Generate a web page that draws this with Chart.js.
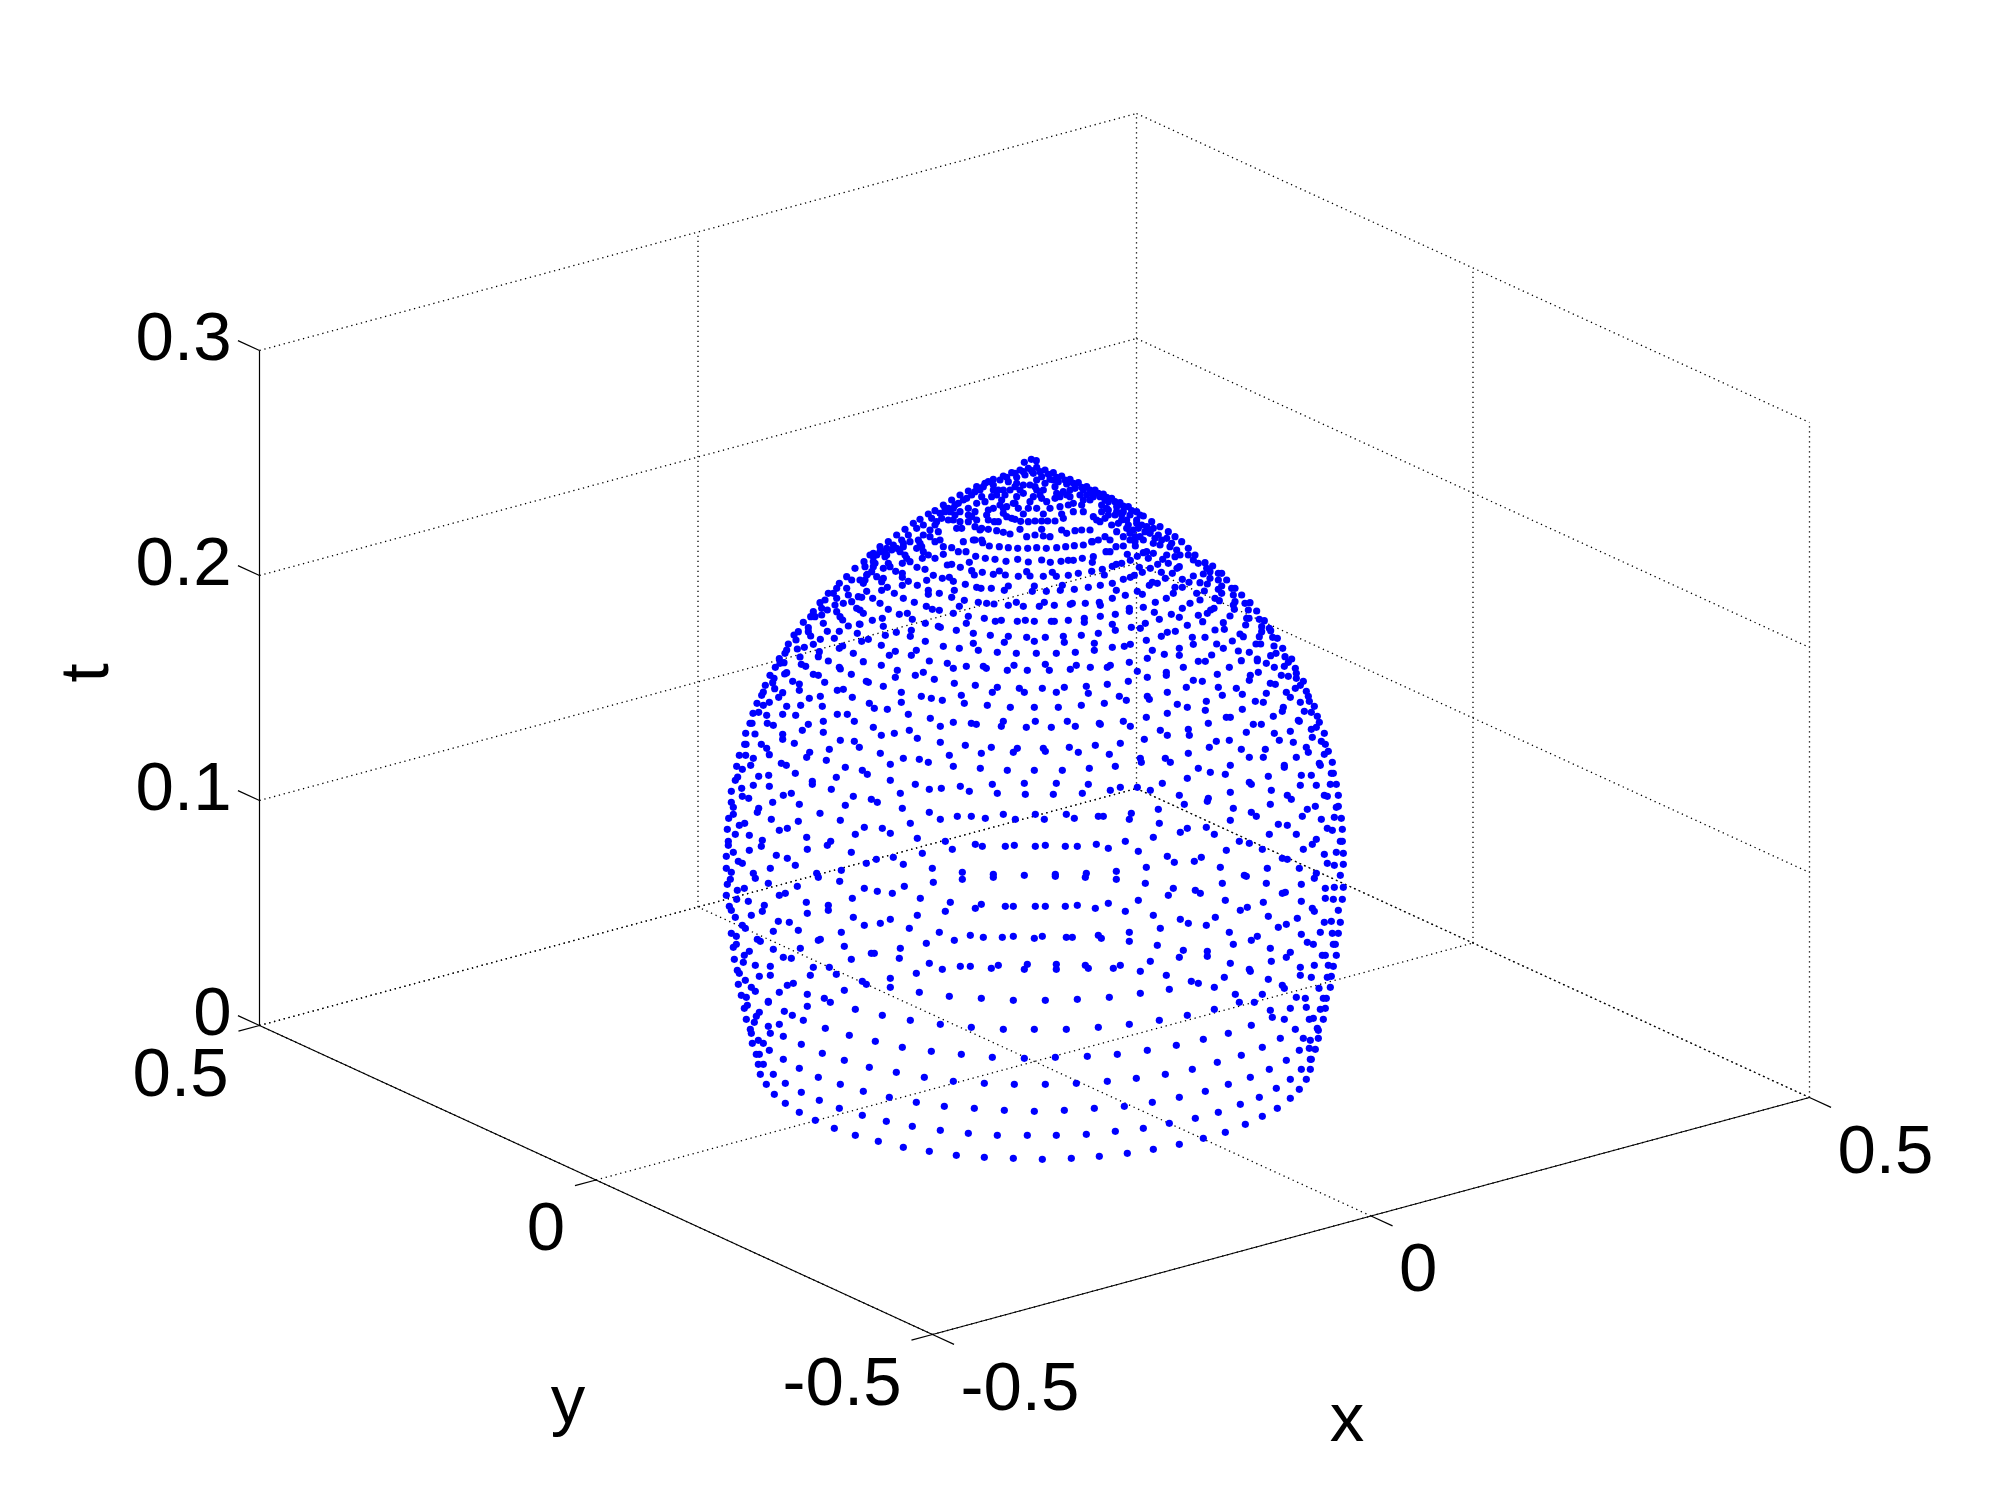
<!DOCTYPE html>
<html>
<head>
<meta charset="utf-8">
<title>Dome</title>
<script src="https://cdn.jsdelivr.net/npm/chart.js@4/dist/chart.umd.js"></script>
<style>
  html, body { margin: 0; padding: 0; background: #fff; }
  canvas { display: block; }
</style>
</head>
<body>
<canvas id="dome" width="2000" height="1500"></canvas>
<script>
// axis ticks of the box
const xTicks = [-0.5, 0, 0.5];
const yTicks = [-0.5, 0, 0.5];
const tTicks = [0, 0.1, 0.2, 0.3];
const xTickLabels = ['-0.5', '0', '0.5'];
const yTickLabels = ['-0.5', '0', '0.5'];
const tTickLabels = ['0', '0.1', '0.2', '0.3'];

// dome points, in view-plane units, one list per part of the dome
const domeTop = [[493,67],[514,58],[529,62],
[12,365],[40,340],[60,320],[85,305],[110,285],[135,268],[160,250],[180,238],[205,222],[225,212],[250,195],[275,180],[300,165],[325,153],[350,140],[375,130],[400,118],[430,108],[455,98],[480,90],[505,85],[530,82],[555,90],[580,98],[605,108],[630,118],[655,128],[680,140],[705,150],[730,162],[755,175],[780,188],[805,200],[830,215],[850,228],[875,245],[900,260],[925,275],[945,290],[965,305],[985,325],[1005,345],[1015,370],
[420,120],[445,125],[470,112],[495,105],[520,100],[545,110],[570,118],[595,125],[620,132],[645,145],[670,150],[695,158],[720,170],[745,185],[770,200],[790,215],[810,225],[830,240],[845,255],[855,275],[880,265],[895,285],[905,300],[920,295],[935,310],[950,330],[960,345],[985,345],[1000,360],
[400,135],[385,125],[360,150],[335,165],[310,180],[285,195],[265,205],[240,220],[215,235],[190,255],[170,265],[145,285],[125,300],[100,315],[75,335],[50,345],[30,345],[15,380],
[415,150],[435,165],[450,150],[465,140],[490,135],[510,135],[525,140],[555,130],[585,140],[610,155],[630,170],[660,165],[690,180],[725,195],[745,210],[765,225],[785,240],[805,255],[820,270],[825,290],
[395,170],[375,185],[420,195],[430,205],[465,190],[475,205],[505,205],[530,205],[560,185],[570,205],[600,200],[625,195],[640,190],[510,185],[490,160],[540,165],
[345,215],[325,205],[300,215],[280,240],[285,225],[305,265],[325,225],[350,240],[380,225],[403,245],[440,230],[465,238],[490,222],[482,244],[505,245],[525,243],[550,222],[545,243],[563,243],[585,243],[605,222],[610,235],[640,215],[670,215],[700,230],[710,240],[725,215],[745,225],[755,255],[775,250],[790,290],[800,265],[830,250],[835,265],[750,300],
[255,205],[230,245],[210,270],[235,275],[190,285],[175,300],[185,320],[205,345],[130,320],[135,345],[150,365],[110,325],[80,325],[80,345],[40,350],[45,370],[40,380],[20,405],[10,430],[85,370],[90,380],[250,320],[290,265],[310,305],[340,300],[365,300],[365,265],[385,268],[410,272],[430,277],[450,282],[480,268],[500,290],[525,285],[545,268],[550,288],[570,290],[605,270],[620,280],[645,272],[665,270],[690,270],[695,305],[715,300],[735,290],[770,275],[810,300],[840,290],[870,280],[880,310],[850,300],
[440,112],[465,100],[490,95],[515,92],[540,95],[565,103],[590,112],[615,120],[640,130],[665,142],[690,150],[715,160],[740,172],[765,185],[790,198],[815,212],[840,225],
[400,150],[410,165],[425,180],[440,200],[430,150],[470,130],[480,150],[470,170],[460,190],[530,120],[530,150],[520,170],[550,150],[545,175],[580,120],[590,160],[585,175],[630,150],[620,165],[600,170],[680,165],[670,180],[665,195],[700,170],[735,180],[740,205],[735,235],[720,245],[770,215],[785,225],[800,240],[810,280],[825,305],[860,260],[870,275],[885,295],[900,315],[930,320],[945,350],[920,345],[880,340],[860,335],
[370,140],[345,155],[320,175],[295,190],[270,215],[280,205],[265,240],[255,215],[245,235],[225,255],[210,290],[225,305],[240,300],[180,310],[190,335],[170,325],[150,305],[130,310],[120,335],[140,355],[95,330],[75,350],[60,335],[40,365],[35,395],[15,420],[300,245],[325,245],[345,260],[360,270],[335,230],[385,240],[415,245],[430,220],[455,235],[400,205],[385,210],[350,190],[365,170],
[275,323],[295,335],[318,335],[345,300],[368,308],[388,318],[418,320],[445,323],[473,325],[503,325],[530,323],[559,325],[590,323],[617,320],[643,317],[670,315],[697,305],[768,320],[790,318],[826,318],[738,335],[750,335],
[187,355],[225,355],[250,343],[347,349],[376,355],[405,358],[438,364],[473,358],[505,366],[545,360],[571,367],[603,364],[625,361],[640,361],[667,355],[700,350],[697,367],[802,343],[832,349],[850,338],[865,355],[908,358],[925,370],[958,380],
[127,370],[171,382],[195,388],[262,375],[275,373],[301,382],[328,367],[335,392],[343,405],[367,397],[400,403],[418,393],[436,405],[500,395],[510,408],[475,409],[550,409],[577,397],[589,409],[625,406],[655,400],[695,394],[727,388],[733,405],[757,379],[769,373],[785,370],[811,361],[838,382],[847,397],[871,385],[893,373],[904,397],[916,415],[937,400],[951,385],[1000,408],[967,418],
[70,385],[22,403],[50,410],[70,415],[65,425],[107,394],[127,400],[127,412],[220,406],[247,415],[268,412],[280,424],[145,424],[127,436],[172,436],[200,421],[316,433],
[82,442],[65,451],[103,460],[350,442],[363,445],[394,445],[445,438],[433,451],[523,438],[517,454],[607,436],[601,451],[643,448],[685,442],[721,436],[757,430],[790,418],[811,412],[823,406],[877,427],[892,430],[868,436],[769,451],[832,454],[847,463],[945,442],[967,442],[987,427],[940,460],[1010,460],
[20,454],[5,472],[38,475],[130,475],[205,451],[205,463],[238,460],[283,451],[275,472],[559,454],[313,481],[796,466],[757,475],[919,475],[886,487],[990,490],[1020,480],
[60,490],[163,487],[355,487],[380,490],[402,492],[469,487],[445,496],[490,499],[553,487],[538,499],[583,496],[637,490],[631,493],[676,490],[718,487],[721,496],[298,499],[199,499],[217,508],[238,511],[85,508],[10,520],[0,510],[808,505],[808,514],[850,502],[967,505],
[118,523],[142,520],[280,520],[325,529],[766,523],[721,529],[883,517],[934,523],[958,532],[1015,526],[37,541],[67,535],[157,538],[373,535],[406,544],[424,541],[472,544],[496,541],[523,544],[574,544],[583,544],[625,541],[673,535],[673,547],[856,550],[898,538],
[196,550],[319,550],[70,559],[235,559],[241,562],[289,571],[757,553],[766,571],[814,562],[841,565],[982,556],[0,553],[109,577],[154,571],[76,586],[151,589],[340,580],[391,586],[445,589],[500,592],[556,592],[610,589],[664,586],[715,580],[922,577],[904,589],[946,574],[997,592],[5,604],[25,598],
[196,604],[64,616],[250,619],[340,610],[433,607],[523,604],[613,607],[703,610],[859,601],[1000,613],[298,625],[355,631],[703,631],[757,622],[793,619],[811,613],[958,625],[877,631],[106,634],[88,646],[169,631],[154,646],[412,637],[469,640],[529,640],[589,640],[646,637],[958,646],[913,643],[862,655]];

const domeLeftShoulder = [[405,25],[380,50],[395,60],[420,60],[358,70],[350,85],[340,100],[325,100],[350,115],[380,85],[385,105],[415,110],[300,128],[315,120],[345,135],[370,130],[395,125],[305,145],[322,150],[410,145],[350,155],[360,170],[368,180],[280,155],[272,170],[285,170],[305,165],[250,187],[310,190],[265,203],[235,215],[222,225],[265,215],[272,228],[322,214],[358,214],[385,198],[418,192],[412,220],[343,235],[301,238],[228,240],[205,252],[280,253],[253,262],[232,267],[200,270],[195,280],[298,275],[295,290],[368,258],[358,265],[400,280],[240,291],[178,296]];

const domeRightShoulder = [[15,8],[38,18],[20,25],[10,42],[30,35],[30,55],[55,40],[65,40],[55,60],[80,60],[0,68],[22,72],[65,78],[95,85],[105,85],[55,88],[65,100],[13,93],[100,105],[125,105],[45,115],[58,122],[105,125],[100,135],[135,130],[150,128],[90,168],[103,148],[42,145],[32,150],[22,160],[145,150],[170,153],[140,175],[147,175],[8,185],[70,188],[178,178],[193,182],[137,195],[185,200],[208,205],[73,208],[45,210],[185,215],[212,212],[120,222],[130,230],[178,230],[15,232],[218,232],[232,235],[97,243],[50,252],[168,252],[182,252],[222,258],[70,265],[248,265],[115,273],[148,277],[228,280],[212,287],[35,285],[255,290],[275,297],[172,297]];

const domeMidLeft = [[222,8],[210,10],[196,22],[180,46],[192,55],[188,68],[166,76],[194,86],[160,96],[155,106],[218,98],[206,112],[178,127],[141,130],[160,136],[230,38],[224,42],[248,64],[268,72],[268,91],[298,115],[272,136],[230,139],[218,163],[170,166],[146,157],[129,160],[257,166],[172,190],[190,196],[126,190],[120,190],[295,193],[277,211],[218,223],[218,238],[107,220],[135,222],[253,250],[104,253],[108,253],[154,253],[170,265],[178,284],[88,286],[107,286],[130,295],[299,277],[290,292],[214,310],[229,316],[122,316],[80,319],[97,328],[256,340],[176,346],[146,349],[83,351],[76,361],[130,376],[178,379],[95,385],[64,394],[244,400],[220,406],[97,409],[116,415],[64,427],[188,427],[268,433],[70,442],[146,445],[142,457],[70,463],[56,475],[184,478],[265,484],[104,490],[88,496],[52,508],[232,505],[208,511],[76,523],[118,526],[290,532],[157,541],[55,544],[55,556],[154,559],[362,544],[352,556],[292,568],[118,571],[70,577],[49,589],[199,586],[232,595],[85,604],[97,610],[256,616],[181,625],[49,625],[64,637],[130,640],[136,655],[320,640],[325,652],[61,658],[52,673],[175,670],[262,679],[82,691],[103,685],[49,706],[226,700],[208,706],[80,718],[115,724],[289,727],[163,736],[58,739],[64,751],[157,754],[355,736],[355,751],[292,760],[124,766],[76,772],
[274,13],[287,19],[355,3],[388,22],[391,27],[310,43],[325,46],[344,67],[424,43],[460,5],[514,16],[562,31],[556,52],[469,64],[475,67],[520,79],[382,91],[400,88],[427,112],[331,109],[337,139],[478,130],[493,145],[532,148],[574,97],[574,127],[382,163],[412,163],[433,184],[340,184],[340,217],[490,202],[514,226],[553,220],[598,211],[595,163],[622,235],[391,241],[433,244],[448,262],[358,268],[349,301],[511,280],[541,313],[580,295],[628,298],[655,307],[406,322],[379,352],[457,331],[472,343],[307,364],[307,373],[364,388],[541,361],[430,409],[484,418],[502,427],[571,400],[406,436],[577,445],[330,460],[391,481],[601,490],[463,502],[517,505],[541,520],[436,523],[622,535],[424,577],[637,580],[550,592],[499,598],[469,610],[580,613],[394,631],[667,625],[389,664],[670,667],[463,685],[502,694],[547,700],[583,679],[427,715],[631,715],[430,772],[541,778],[622,766],
[616,46],[640,37],[673,58],[658,3],[712,10],[730,25],[769,19],[820,19],[829,25],[892,31],[912,16],[952,31],[733,70],[796,76],[634,109],[664,115],[697,121],[754,106],[763,130],[847,97],[862,82],[928,85],[943,97],[832,136],[901,142],[661,175],[730,187],[691,199],[784,190],[799,193],[880,184],[874,199],[949,202],[691,247],[766,256],[844,262],[814,280],[922,265],[910,277],[718,286],[730,319],[811,325],[892,331],[616,373],[658,388],[694,385],[751,379],[778,394],[847,373],[862,400],[943,370],[946,403],[658,457],[691,478],[742,469],[784,469],[826,475],[880,463],[916,478],[706,544],[727,568],[796,553],[817,559],[886,559],[913,556],[757,637],[757,658],[850,643],[850,652],[943,646],[721,727],[706,754],[796,745],[814,733],[886,739],[910,739]];

const domeMidRight = [[46,13],[58,31],[121,28],[139,16],[181,22],[232,22],[241,16],[298,7],[322,34],[352,52],[295,64],[409,37],[409,46],[460,22],[505,4],[526,4],[598,22],[634,2],[682,2],[709,10],[733,22],[763,19],[775,7],[796,25],[799,40],[799,55],[754,46],[775,49],[661,46],[658,61],[685,37],[562,43],[490,61],[517,64],[37,85],[79,97],[103,82],[169,79],[175,100],[232,73],[268,109],[289,121],[352,109],[358,118],[412,97],[469,82],[565,82],[577,106],[619,85],[637,103],[721,70],[736,73],[709,100],[796,85],[811,76],[820,64],[829,94],[835,109],[769,97],[781,112],[838,124],[811,127],[853,139],[676,124],[700,127],[760,142],[757,154],[730,169],[823,154],[844,157],[862,169],[868,187],[805,181],[808,184],[13,142],[85,142],[154,136],[223,130],[442,133],[472,142],[529,124],[526,151],[412,160],[637,148],[16,184],[64,202],[112,184],[136,199],[208,190],[211,193],[280,184],[301,199],[349,172],[589,172],[601,172],[535,190],[670,193],[694,193],[391,211],[475,208],[478,226],[412,226],[649,217],[733,220],[781,214],[859,202],[844,208],[847,232],[883,220],[748,241],[790,247],[874,244],[886,253],[196,256],[271,250],[343,238],[559,244],[598,241],[538,262],[40,265],[46,274],[118,262],[145,277],[238,283],[475,280],[634,268],[706,268],[829,262],[835,277],[895,274],[883,283],[658,292],[700,292],[799,292],[331,295],[334,307],[406,295],[421,307],[907,307],[868,310],[871,316],[601,316],[763,316],[763,322],[13,331],[97,331],[178,325],[256,319],[505,325],[541,337],[586,343],[715,349],[814,346],[844,346],[904,340],[910,340],[472,355],[658,367],[664,373],[79,370],[175,373],[397,370],[811,376],[859,376],[901,373],[919,373],[70,403],[157,400],[241,391],[271,382],[322,382],[361,391],[724,391],[601,397],[448,406],[772,406],[784,418],[883,406],[892,409],[925,406],[535,415],[532,424],[463,433],[721,433],[856,439],[925,439],[919,442],[610,445],[832,448],[385,448],[16,463],[43,478],[109,463],[133,475],[205,469],[220,469],[304,460],[298,478],[664,457],[679,469],[817,469],[913,472],[934,475],[874,478],[601,481],[388,490],[745,493],[772,496],[529,502],[472,505],[451,517],[553,523],[892,505],[907,511],[937,508],[718,523],[799,523],[370,532],[628,544],[658,550],[859,538],[847,553],[931,544],[937,544],[286,544],[16,559],[46,556],[106,559],[142,559],[199,553],[235,565],[325,574],[697,568],[820,568],[589,571],[883,583],[919,577],[940,580],[412,589],[433,607],[493,604],[514,592],[757,595],[772,598],[892,610],[913,616],[940,613],[571,622],[712,625],[808,625],[349,622],[76,643],[76,649],[169,640],[166,652],[259,634],[259,658],[643,646],[649,649],[859,640],[853,655],[931,646],[346,670],[577,670],[709,670],[814,673],[886,685],[913,682],[940,682],[430,685],[496,691],[511,700],[415,706],[766,697],[757,700],[325,721],[586,721],[700,727],[814,724],[886,715],[910,718],[937,718],[16,739],[46,739],[106,739],[142,736],[196,745],[235,730],[286,754],[652,742],[631,751],[847,745],[853,754],[925,751],[370,766],[556,772],[715,769],[802,775],[451,778]];

const domeLowLeft = [[97,16],[106,25],[205,4],[238,7],[463,16],[511,10],[598,25],[64,40],[79,49],[190,34],[265,31],[394,37],[688,37],[781,46],[820,52],[877,52],[910,49],[142,58],[151,64],[331,58],[325,61],[649,70],[733,61],[79,73],[70,82],[403,79],[190,88],[271,85],[571,85],[118,94],[103,106],[484,100],[493,100],[220,112],[244,115],[424,118],[568,115],[73,118],[100,127],[658,130],[136,136],[181,139],[310,142],[358,142],[697,148],[751,139],[781,139],[844,145],[865,136],[952,133],[943,148],[82,151],[88,160],[619,160],[379,163],[148,169],[181,166],[301,166],[541,175],[106,181],[457,184],[469,193],[85,193],[250,190],[232,196],[541,202],[124,202],[136,214],[208,217],[403,211],[628,217],[292,223],[94,226],[109,232],[718,229],[814,235],[910,241],[343,235],[361,247],[175,244],[175,247],[112,256],[103,265],[292,259],[436,268],[148,277],[139,289],[223,274],[247,286],[517,286],[109,298],[133,307],[280,301],[601,301],[691,313],[208,313],[175,319],[784,322],[880,328],[346,325],[121,328],[124,340],[181,340],[220,349],[418,346],[145,361],[127,370],[160,370],[496,364],[274,373],[178,391],[577,382],[664,394],[139,403],[148,403],[337,400],[754,403],[847,412],[943,415],[220,418],[403,421],[145,433],[160,433],[268,445],[478,442],[151,463],[190,463],[559,457],[643,472],[325,472],[730,484],[823,490],[913,493],[169,493],[226,490],[391,493],[193,523],[274,517],[460,514],[538,532],[226,550],[328,541],[619,547],[703,559],[793,565],[883,571],[388,565],[268,577],[457,586],[316,601],[529,604],[607,619],[373,625],[691,631],[775,640],[862,646],[952,646],[436,646],[505,664],[580,682],[658,694],[739,706],[823,712],[910,715]];

const domeLowRight = [[13,55],[37,49],[109,52],[127,52],[205,46],[214,55],[298,37],[298,64],[391,25],[475,10],[529,16],[598,37],[745,22],[769,13],[883,7],[904,4],[931,7],[814,43],[871,37],[907,40],[925,40],[682,49],[664,61],[610,73],[382,76],[832,67],[850,73],[910,73],[916,73],[460,91],[532,94],[532,109],[448,112],[721,85],[781,97],[769,112],[877,106],[886,106],[919,106],[724,124],[79,133],[79,148],[166,136],[175,145],[250,145],[271,136],[361,124],[331,154],[601,130],[895,136],[910,139],[853,136],[811,142],[658,148],[661,154],[409,166],[811,166],[844,172],[583,172],[715,178],[892,172],[904,169],[484,184],[505,190],[757,196],[763,205],[553,202],[418,208],[867,205],[901,202],[331,220],[616,223],[697,223],[46,241],[142,238],[238,232],[799,232],[826,235],[880,235],[889,235],[628,247],[673,247],[553,268],[721,271],[781,265],[829,262],[871,268],[886,265],[472,286],[727,292],[763,298],[838,298],[850,295],[880,298],[388,301],[13,328],[109,328],[205,322],[298,313],[664,316],[796,328],[862,325],[865,331],[595,340],[820,355],[841,361],[865,355],[751,355],[520,358],[439,376],[697,382],[838,385],[856,388],[808,391],[352,391],[262,403],[172,409],[76,412],[634,406],[769,421],[841,418],[844,418],[562,427],[487,448],[718,448],[814,448],[841,448],[406,463],[661,472],[319,475],[232,484],[781,478],[829,478],[139,490],[46,493],[595,493],[739,505],[808,508],[526,514],[448,532],[688,532],[781,535],[367,547],[631,553],[283,559],[193,565],[103,571],[13,574],[742,565],[565,577],[496,595],[697,589],[418,610],[646,613],[340,625],[256,634],[169,643],[79,646],[586,637],[520,655],[448,673],[370,688],[292,700],[208,709],[124,715],[37,718]];

// each list is read relative to the corner of its own part of the view plane
const domeParts = [
  { list: domeTop, u0: 2580, v0: 1320 },
  { list: domeLeftShoulder, u0: 2160, v0: 1680 },
  { list: domeRightShoulder, u0: 3600, v0: 1680 },
  { list: domeMidLeft, u0: 2130, v0: 1980 },
  { list: domeMidRight, u0: 3090, v0: 1980 },
  { list: domeLowLeft, u0: 2130, v0: 2760 },
  { list: domeLowRight, u0: 3090, v0: 2760 },
];
const domePoints = domeParts.flatMap(p => p.list.map(([u, v]) => ({ x: p.u0 + u, y: p.v0 + v })));

// view: (x, y, t) onto the view plane, 3 units to a pixel
const project = (x, y, t) => ({
  x: 3 * (1034.5 + 877 * x - 673 * y),
  y: 3 * (1061.5 - 237 * x - 309 * y - 2250 * t),
});

const segment = (a, b, dotted) => ({
  type: 'scatter',
  data: [project(...a), project(...b)],
  showLine: true,
  pointRadius: 0,
  borderColor: '#000',
  borderWidth: dotted ? 1.3 : 1.2,
  borderDash: dotted ? [1.3, 3.7] : [],
  order: 2,
});

const tMax = tTicks[tTicks.length - 1];
const lines = [];

// grid, dotted
xTicks.forEach(x => {
  lines.push(segment([x, -0.5, 0], [x, 0.5, 0], true));
  if (x > -0.5) lines.push(segment([x, 0.5, 0], [x, 0.5, tMax], true));
});
yTicks.forEach(y => {
  lines.push(segment([-0.5, y, 0], [0.5, y, 0], true));
  if (y < 0.5) lines.push(segment([0.5, y, 0], [0.5, y, tMax], true));
});
tTicks.forEach(t => {
  lines.push(segment([-0.5, 0.5, t], [0.5, 0.5, t], true));
  lines.push(segment([0.5, 0.5, t], [0.5, -0.5, t], true));
});

// solid axes
lines.push(segment([-0.5, 0.5, 0], [-0.5, -0.5, 0], false));
lines.push(segment([-0.5, -0.5, 0], [0.5, -0.5, 0], false));
lines.push(segment([-0.5, 0.5, 0], [-0.5, 0.5, tMax], false));

// tick marks
const tickLenX = 0.024, tickLenY = 0.032;
xTicks.forEach(x => lines.push(segment([x, -0.5, 0], [x, -0.5 - tickLenY, 0], false)));
yTicks.forEach(y => lines.push(segment([-0.5, y, 0], [-0.5 - tickLenX, y, 0], false)));
tTicks.forEach(t => lines.push(segment([-0.5, 0.5, t], [-0.5, 0.5 + tickLenY, t], false)));

const boxText = {
  id: 'boxText',
  afterDraw(chart) {
    const { ctx, scales } = chart;
    const pix = p => ({ x: scales.x.getPixelForValue(p.x), y: scales.y.getPixelForValue(p.y) });
    ctx.save();
    ctx.fillStyle = '#000';
    ctx.font = '69px "Liberation Sans", Arial, sans-serif';
    ctx.textBaseline = 'alphabetic';

    ctx.textAlign = 'right';
    tTicks.forEach((t, i) => {
      const p = pix(project(-0.5, 0.5, t));
      ctx.fillText(tTickLabels[i], p.x - 28, p.y + 9);
    });
    yTicks.forEach((y, i) => {
      const p = pix(project(-0.5, y, 0));
      ctx.fillText(yTickLabels[i], p.x - 31, p.y + 70);
    });
    ctx.textAlign = 'left';
    xTicks.forEach((x, i) => {
      const p = pix(project(x, -0.5, 0));
      ctx.fillText(xTickLabels[i], p.x + 28, p.y + 75);
    });

    ctx.textAlign = 'center';
    const xName = pix(project(0, -0.5, 0));
    ctx.fillText('x', xName.x - 24, xName.y + 225);
    const yName = pix(project(-0.5, 0, 0));
    ctx.fillText('y', yName.x - 28, yName.y + 243);
    const tName = pix(project(-0.5, 0.5, 0.15));
    ctx.translate(tName.x - 152, tName.y - 15);
    ctx.rotate(-Math.PI / 2);
    ctx.fillText('t', 0, 0);
    ctx.restore();
  },
};

new Chart(document.getElementById('dome'), {
  type: 'scatter',
  plugins: [boxText],
  data: {
    datasets: [
      {
        data: domePoints,
        pointRadius: 3.6,
        pointBorderWidth: 0,
        pointBackgroundColor: '#0000ff',
        showLine: false,
        order: 1,
      },
      ...lines,
    ],
  },
  options: {
    responsive: false,
    animation: false,
    layout: { padding: 0, autoPadding: false },
    plugins: { legend: { display: false }, tooltip: { enabled: false } },
    scales: {
      x: { type: 'linear', min: 0, max: 6000, display: false },
      y: { type: 'linear', min: 0, max: 4500, reverse: true, display: false },
    },
  },
});
</script>
</body>
</html>
